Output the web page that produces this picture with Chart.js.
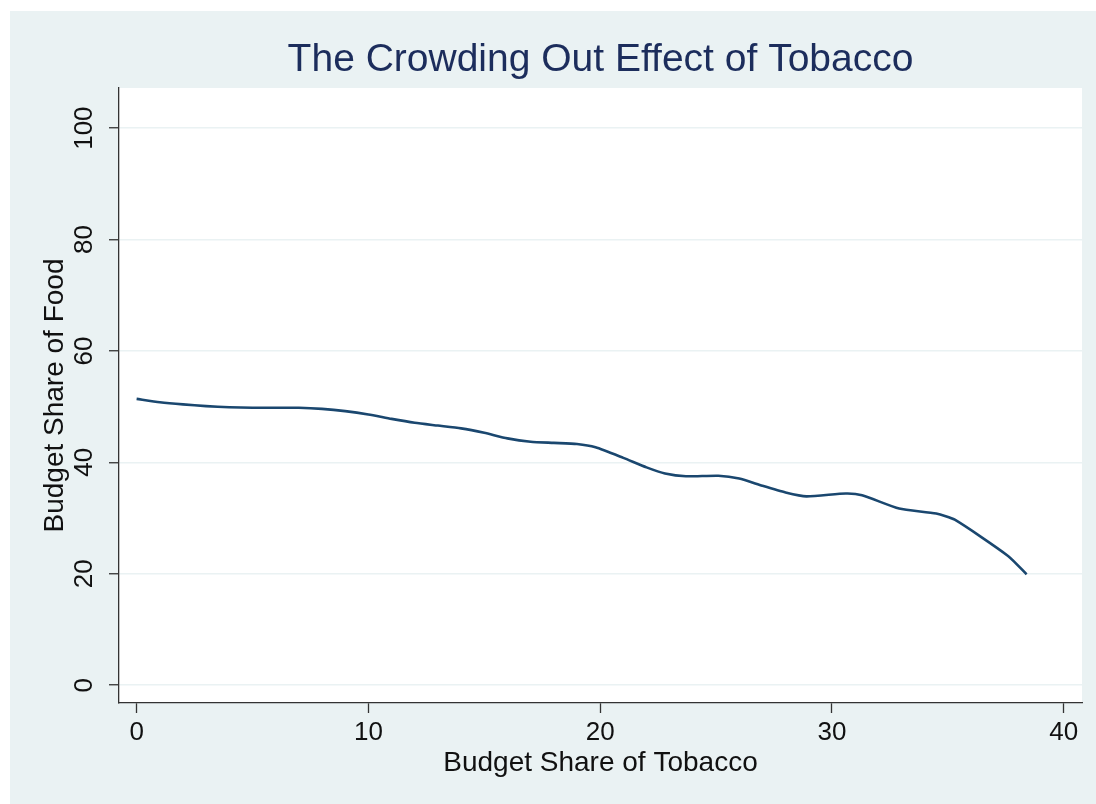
<!DOCTYPE html>
<html>
<head>
<meta charset="utf-8">
<title>The Crowding Out Effect of Tobacco</title>
<script src="https://cdn.jsdelivr.net/npm/chart.js@4/dist/chart.umd.min.js"></script>
<style>
  body { margin: 0; background: #fff; }
  #wrap { position: absolute; left: 10px; top: 11px; width: 1086px; height: 793px; background: rgb(234, 242, 243); }
</style>
</head>
<body>
<div id="wrap"><canvas id="chart" width="1086" height="793"></canvas></div>
<script>
// budget share of tobacco (%) and matching budget share of food (%)
var tobaccoShare = [0, 1, 2, 3, 4, 5, 6, 7, 8, 9, 10, 11, 12, 13, 14, 15, 16, 17, 18, 19, 19.8,
    21, 22, 22.8, 23.7, 25.1, 26, 27, 28, 28.9, 30.6, 31.3, 32.9, 34.5, 35.3, 37.6, 38.4];
var foodShare = [51.4, 50.8, 50.4, 50.1, 49.9, 49.8, 49.8, 49.8, 49.6, 49.2, 48.6, 47.8, 47.1, 46.6, 46.1, 45.3, 44.3, 43.7, 43.5, 43.3, 42.7,
    40.8, 39.1, 38.0, 37.5, 37.6, 37.1, 35.8, 34.6, 33.9, 34.4, 34.1, 31.7, 30.8, 29.7, 23.2, 19.9];
var xTicks = [0, 10, 20, 30, 40];
var yTicks = [0, 20, 40, 60, 80, 100];

var points = [];
for (var i = 0; i < tobaccoShare.length; i++) {
    points.push({ x: tobaccoShare[i], y: foodShare[i] });
}

var axisColor = '#333333';
var gridColor = 'rgb(234, 242, 243)';
var fontFamily = '"Liberation Sans", Arial, Helvetica, sans-serif';

// white plot region inside the bluish-gray frame
var plotBackground = {
    id: 'plotBackground',
    beforeDraw: function(chart) {
        var a = chart.chartArea;
        chart.ctx.save();
        chart.ctx.fillStyle = '#ffffff';
        chart.ctx.fillRect(a.left, a.top, a.right - a.left, a.bottom - a.top);
        chart.ctx.restore();
    }
};

new Chart(document.getElementById('chart'), {
    type: 'line',
    data: {
        datasets: [{
            data: points,
            borderColor: 'rgb(26, 71, 111)',
            borderWidth: 2.6,
            pointRadius: 0,
            tension: 0.2,
            fill: false
        }]
    },
    plugins: [plotBackground],
    options: {
        responsive: false,
        animation: false,
        layout: { padding: { left: 0, right: 14, top: 0, bottom: 0 } },
        plugins: {
            legend: { display: false },
            tooltip: { enabled: false },
            title: {
                display: true,
                fullSize: false,
                text: 'The Crowding Out Effect of Tobacco',
                color: 'rgb(28, 45, 92)',
                font: { family: fontFamily, size: 39, weight: 'normal', lineHeight: 1.2 },
                padding: { top: 26, bottom: 4.2 }
            }
        },
        scales: {
            x: {
                type: 'linear',
                min: -0.76,
                max: 40.79,
                afterBuildTicks: function(scale) {
                    scale.ticks = xTicks.map(function(v) { return { value: v }; });
                },
                afterFit: function(scale) { scale.height = 101; },
                grid: { display: true, drawOnChartArea: false, drawTicks: true, tickLength: 10, tickColor: axisColor, tickWidth: 1.3 },
                border: { display: true, color: axisColor, width: 1.3 },
                ticks: {
                    color: '#111',
                    padding: 4,
                    maxRotation: 0,
                    font: { family: fontFamily, size: 26 }
                },
                title: {
                    display: true,
                    text: 'Budget Share of Tobacco',
                    color: '#111',
                    font: { family: fontFamily, size: 28 },
                    padding: { top: 0, bottom: 24 }
                }
            },
            y: {
                type: 'linear',
                min: -3.2,
                max: 107.2,
                afterBuildTicks: function(scale) {
                    scale.ticks = yTicks.map(function(v) { return { value: v }; });
                },
                afterFit: function(scale) { scale.width = 109; },
                grid: { display: true, color: gridColor, lineWidth: 1.5, drawTicks: true, tickLength: 10, tickColor: axisColor, tickWidth: 1.3 },
                border: { display: true, color: axisColor, width: 1.3 },
                ticks: {
                    color: '#111',
                    padding: 2,
                    minRotation: 90,
                    maxRotation: 90,
                    crossAlign: 'center',
                    font: { family: fontFamily, size: 26 }
                },
                title: {
                    display: true,
                    text: 'Budget Share of Food',
                    color: '#111',
                    font: { family: fontFamily, size: 28 },
                    padding: { top: 28, bottom: 0 }
                }
            }
        }
    }
});
</script>
</body>
</html>
